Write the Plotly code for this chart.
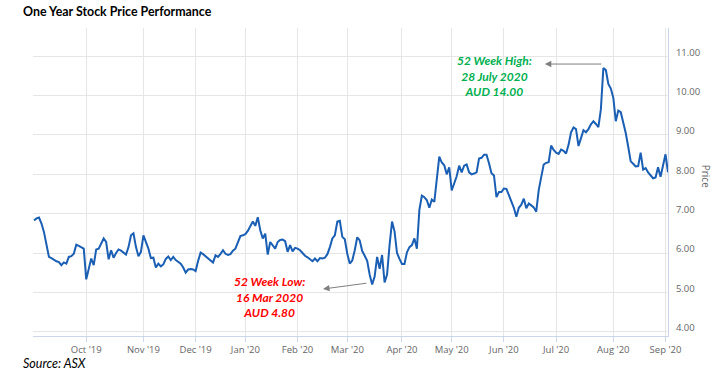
import plotly.graph_objects as go

dates = [
    "2019-09-02","2019-09-03","2019-09-04","2019-09-05","2019-09-06","2019-09-09","2019-09-10","2019-09-11","2019-09-12","2019-09-13",
    "2019-09-16","2019-09-17","2019-09-18","2019-09-19","2019-09-20","2019-09-23","2019-09-24","2019-09-25","2019-09-26","2019-09-27","2019-09-30",
    "2019-10-01","2019-10-02","2019-10-03","2019-10-04","2019-10-07","2019-10-08","2019-10-09","2019-10-10","2019-10-11","2019-10-14",
    "2019-10-15","2019-10-16","2019-10-17","2019-10-18","2019-10-21","2019-10-22","2019-10-23","2019-10-24","2019-10-25","2019-10-28",
    "2019-10-29","2019-10-30","2019-10-31",
    "2019-11-01","2019-11-04","2019-11-05","2019-11-06","2019-11-07","2019-11-08","2019-11-11","2019-11-12","2019-11-13","2019-11-14",
    "2019-11-15","2019-11-18","2019-11-19","2019-11-20","2019-11-21","2019-11-22","2019-11-25","2019-11-26","2019-11-27","2019-11-28","2019-11-29",
    "2019-12-02","2019-12-03","2019-12-04","2019-12-05","2019-12-06","2019-12-09","2019-12-10","2019-12-11","2019-12-12","2019-12-13",
    "2019-12-16","2019-12-17","2019-12-18","2019-12-19","2019-12-20","2019-12-23","2019-12-24","2019-12-27","2019-12-30","2019-12-31",
    "2020-01-02","2020-01-03","2020-01-06","2020-01-07","2020-01-08","2020-01-09","2020-01-10","2020-01-13","2020-01-14","2020-01-15",
    "2020-01-16","2020-01-17","2020-01-20","2020-01-21","2020-01-22","2020-01-23","2020-01-24","2020-01-28","2020-01-29","2020-01-30","2020-01-31",
    "2020-02-03","2020-02-04","2020-02-05","2020-02-06","2020-02-07","2020-02-10","2020-02-11","2020-02-12","2020-02-13","2020-02-14",
    "2020-02-17","2020-02-18","2020-02-19","2020-02-20","2020-02-21","2020-02-24","2020-02-25","2020-02-26","2020-02-27","2020-02-28",
    "2020-03-02","2020-03-03","2020-03-04","2020-03-05","2020-03-06","2020-03-09","2020-03-10","2020-03-11","2020-03-12","2020-03-13",
    "2020-03-16","2020-03-17","2020-03-18","2020-03-19","2020-03-20","2020-03-23","2020-03-24","2020-03-25","2020-03-26","2020-03-27",
    "2020-03-30","2020-03-31",
    "2020-04-01","2020-04-02","2020-04-03","2020-04-06","2020-04-07","2020-04-08","2020-04-09","2020-04-14","2020-04-15","2020-04-16",
    "2020-04-17","2020-04-20","2020-04-21","2020-04-22","2020-04-23","2020-04-24","2020-04-27","2020-04-28","2020-04-29","2020-04-30",
    "2020-05-01","2020-05-04","2020-05-05","2020-05-06","2020-05-07","2020-05-08","2020-05-11","2020-05-12","2020-05-13","2020-05-14",
    "2020-05-15","2020-05-18","2020-05-19","2020-05-20","2020-05-21","2020-05-22","2020-05-25","2020-05-26","2020-05-27","2020-05-28","2020-05-29",
    "2020-06-01","2020-06-02","2020-06-03","2020-06-04","2020-06-05","2020-06-09","2020-06-10","2020-06-11","2020-06-12","2020-06-15",
    "2020-06-16","2020-06-17","2020-06-18","2020-06-19","2020-06-22","2020-06-23","2020-06-24","2020-06-25","2020-06-26","2020-06-29","2020-06-30",
    "2020-07-01","2020-07-02","2020-07-03","2020-07-06","2020-07-07","2020-07-08","2020-07-09","2020-07-10","2020-07-13","2020-07-14",
    "2020-07-15","2020-07-16","2020-07-17","2020-07-20","2020-07-21","2020-07-22","2020-07-23","2020-07-24","2020-07-27","2020-07-28",
    "2020-07-29","2020-07-30","2020-07-31",
    "2020-08-03","2020-08-04","2020-08-05","2020-08-06","2020-08-07","2020-08-10","2020-08-11","2020-08-12","2020-08-13","2020-08-14",
    "2020-08-17","2020-08-18","2020-08-19","2020-08-20","2020-08-21","2020-08-24","2020-08-25","2020-08-26","2020-08-27","2020-08-28","2020-08-31",
    "2020-09-01","2020-09-02",
]

prices = [
    6.83,6.88,6.90,6.75,6.53,6.20,5.90,5.87,5.82,5.79,5.77,5.69,5.76,5.73,5.90,5.92,5.98,6.21,6.18,6.15,6.11,
    5.33,5.56,5.86,5.69,6.09,6.11,6.25,6.37,6.28,5.84,6.07,5.88,6.00,6.09,6.06,6.01,5.96,6.15,6.45,6.50,6.15,5.92,6.03,
    6.45,6.28,6.11,5.87,5.88,5.63,5.73,5.66,5.71,5.85,5.91,5.82,5.90,5.82,5.78,5.73,5.63,5.50,5.58,5.59,5.58,
    5.54,5.80,6.01,5.97,5.92,5.88,5.82,5.76,5.94,5.90,5.98,6.07,5.98,5.95,5.97,6.06,6.11,6.30,6.43,6.45,
    6.48,6.56,6.68,6.80,6.69,6.91,6.58,6.37,6.49,5.96,6.28,6.18,6.11,6.28,6.33,6.34,6.30,6.03,6.20,6.04,6.13,
    6.11,6.07,6.00,5.93,5.89,5.84,5.79,5.86,5.79,5.87,5.86,5.88,5.97,6.15,6.37,6.45,6.80,6.82,6.41,6.35,
    5.98,5.73,5.81,6.07,6.40,6.32,6.05,5.93,5.80,5.45,5.20,5.40,5.90,5.60,5.95,5.25,5.45,6.20,6.80,6.55,6.00,5.85,
    5.72,5.72,6.02,6.15,6.20,6.37,6.11,7.10,7.46,7.42,7.34,7.15,7.36,7.30,7.88,8.45,8.30,8.23,8.00,8.18,
    7.59,7.75,7.95,8.22,8.05,8.22,8.25,8.05,8.00,8.02,8.05,8.40,8.42,8.50,8.50,8.28,8.03,7.97,7.42,7.55,7.55,
    7.64,7.63,7.47,7.32,7.15,6.92,7.15,7.23,7.38,7.14,7.26,7.21,7.16,7.05,7.60,7.93,8.25,8.29,8.31,8.73,8.62,
    8.55,8.52,8.63,8.60,8.53,8.75,9.07,9.19,9.15,8.72,8.92,9.12,9.07,9.15,9.27,9.35,9.28,9.20,9.65,10.70,10.65,10.30,10.18,
    9.95,9.35,9.62,9.58,9.35,9.05,8.70,8.33,8.27,8.20,8.21,8.55,8.12,8.16,8.05,7.97,7.90,7.92,8.18,7.94,8.20,
    8.51,8.05,
]

month_ticks = ["2019-10-01","2019-11-01","2019-12-02","2020-01-02","2020-02-03","2020-03-02",
               "2020-04-01","2020-05-01","2020-06-01","2020-07-01","2020-08-03","2020-09-01"]
month_labels = ["Oct '19","Nov '19","Dec '19","Jan '20","Feb '20","Mar '20",
                "Apr '20","May '20","Jun '20","Jul '20","Aug '20","Sep '20"]
holidays = ["2019-12-25","2019-12-26","2020-01-01","2020-01-27","2020-04-10","2020-04-13","2020-06-08"]
price_ticks = [4, 5, 6, 7, 8, 9, 10, 11]

fig = go.Figure()
fig.add_trace(go.Scatter(x=dates, y=prices, mode="lines",
                         line=dict(color="#1a5fb4", width=2), hoverinfo="x+y"))

fig.update_layout(
    width=718, height=376,
    margin=dict(l=33, r=50, t=28, b=40),
    paper_bgcolor="white", plot_bgcolor="white",
    showlegend=False,
    font=dict(family="Open Sans, Arial, sans-serif", color="#666666"),
)

fig.update_xaxes(
    type="date",
    range=["2019-08-30 14:00", "2020-09-02"],
    rangebreaks=[dict(bounds=["sat", "mon"]), dict(values=holidays)],
    tickvals=month_ticks, ticktext=month_labels,
    showgrid=True, gridcolor="#e6e6e6", gridwidth=1,
    showline=True, linecolor="#ccd6eb", linewidth=1,
    ticks="outside", ticklen=5, tickcolor="#ccd6eb",
    tickfont=dict(size=9.5, color="#666666"),
    zeroline=False,
)

fig.update_yaxes(
    side="right",
    range=[3.89, 11.72],
    tickvals=price_ticks, tickformat=".2f",
    showgrid=True, gridcolor="#e6e6e6", gridwidth=1,
    showline=True, linecolor="#ccd6eb", linewidth=1,
    ticks="", ticklabelstandoff=5, ticklabelshift=-4,
    tickfont=dict(size=9.5, color="#666666"),
    zeroline=False,
)

ann = []
ann.append(dict(text="<b>One Year Stock Price Performance</b>", xref="paper", yref="paper",
                x=-0.019, y=1.055, xanchor="left", yanchor="middle", showarrow=False,
                font=dict(family="Lato, sans-serif", size=12.4, color="#000000")))
ann.append(dict(text="<i>Source: ASX</i>", xref="paper", yref="paper",
                x=-0.019, y=-0.088, xanchor="left", yanchor="middle", showarrow=False,
                font=dict(family="Lato, sans-serif", size=12.5, color="#000000")))
ann.append(dict(text="Price", xref="paper", yref="paper", x=1.06, y=0.52,
                xanchor="center", yanchor="middle", showarrow=False, textangle=90,
                font=dict(size=10, color="#666666")))
# 52 week high
ann.append(dict(text="<b><i>52 Week High:<br>28 July 2020<br>AUD 14.00</i></b>", xref="paper", yref="paper",
                x=0.727, y=0.845, xanchor="center", yanchor="middle", showarrow=False, align="center",
                font=dict(family="Lato, sans-serif", size=12, color="#00b050")))
ann.append(dict(text="", xref="paper", yref="paper", x=0.806, y=0.883, ax=58, ay=0,
                showarrow=True, arrowhead=2, arrowsize=1.3, arrowwidth=1, arrowcolor="#7f7f7f"))
# 52 week low
ann.append(dict(text="<b><i>52 Week Low:<br>16 Mar 2020<br>AUD 4.80</i></b>", xref="paper", yref="paper",
                x=0.373, y=0.127, xanchor="center", yanchor="middle", showarrow=False, align="center",
                font=dict(family="Lato, sans-serif", size=12, color="#ff0000")))
ann.append(dict(text="", xref="paper", yref="paper", x=0.4567, y=0.1526, ax=45, ay=-6,
                showarrow=True, arrowhead=2, arrowsize=1.3, arrowwidth=1, arrowcolor="#7f7f7f"))
fig.update_layout(annotations=ann)

# remove the browser's default 8px page margin so the 718x376 figure fills the window
fig.write_html("out.html", config={"displayModeBar": False},
               post_script="document.body.style.margin='0px';")
